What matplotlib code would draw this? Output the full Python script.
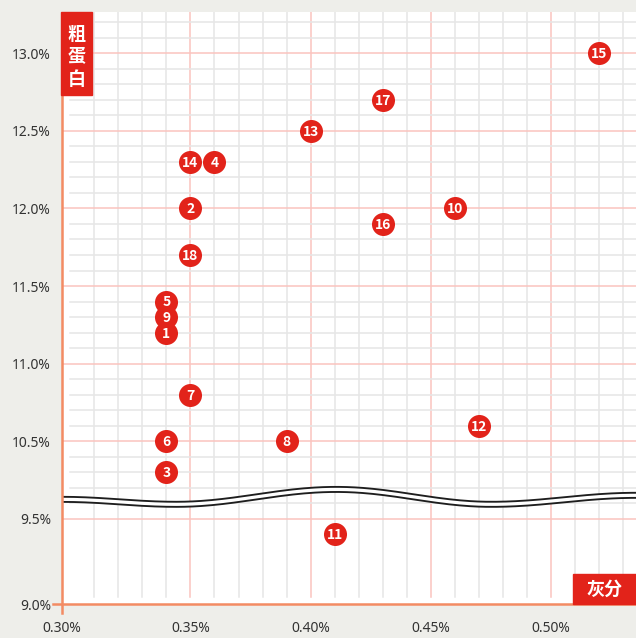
import numpy as np
import matplotlib
matplotlib.use('Agg')
import matplotlib.pyplot as plt
from matplotlib.patches import Rectangle

plt.rcParams['font.family'] = ['Noto Sans', 'Noto Sans CJK SC', 'DejaVu Sans']

# sample number, ash (%), crude protein (%)
ids = [1, 2, 3, 4, 5, 6, 7, 8, 9, 10, 11, 12, 13, 14, 15, 16, 17, 18]
ash = [0.34, 0.35, 0.34, 0.36, 0.34, 0.34, 0.35, 0.39, 0.34, 0.46,
       0.41, 0.47, 0.40, 0.35, 0.52, 0.43, 0.43, 0.35]
protein = [11.2, 12.0, 10.3, 12.3, 11.4, 10.5, 10.8, 10.5, 11.3, 12.0,
           9.4, 10.6, 12.5, 12.3, 13.0, 11.9, 12.7, 11.7]

x_ticks = [0.30, 0.35, 0.40, 0.45, 0.50]
y_ticks = [9.0, 9.5, 10.5, 11.0, 11.5, 12.0, 12.5, 13.0]

RED = '#e2231a'
ORANGE = '#f38b63'
MAJOR = '#fbc3be'
MINOR = '#e6e6e6'
BG = '#eeeeea'
CJK = ['Noto Sans CJK SC', 'DejaVu Sans']

# y axis is broken between 9.5 and 10.0: values below 10 are lifted by 0.5
def ys(v):
    v = np.asarray(v, dtype=float)
    return np.where(v < 10.0, v + 0.5, v)

x_lo, x_hi = 0.2966, 0.5353
y_lo, y_hi = 9.452, 13.265

fig = plt.figure(figsize=(6.36, 6.38), dpi=100)
fig.patch.set_facecolor(BG)
ax = fig.add_axes([62 / 636, 34 / 638, 574 / 636, 592 / 638])
ax.set_facecolor('white')
ax.set_xlim(x_lo, x_hi)
ax.set_ylim(y_lo, y_hi)
for s in ax.spines.values():
    s.set_visible(False)

# grid
minor_x = np.round(np.arange(0.31, 0.535, 0.01), 2)
for xv in minor_x:
    major = round(xv * 100) % 5 == 0
    ax.plot([xv, xv], [ys(9.0), y_hi], color=MAJOR if major else MINOR,
            lw=1.1, zorder=1)
minor_y = np.round(np.arange(10.0, 13.25, 0.1), 1)
for yv in minor_y:
    if round(yv * 10) % 5 == 0:
        ax.plot([x_lo, x_hi], [yv, yv], color=MAJOR, lw=1.1, zorder=1)
    else:
        ax.plot([0.30, x_hi], [yv, yv], color=MINOR, lw=1.1, zorder=1)

# axis break wave
bx = np.array([0.2966, 0.3442, 0.4107, 0.4751, 0.5353])
by = np.array([10.126, 10.094, 10.190, 10.094, 10.152])
wx, wy = [], []
for i in range(len(bx) - 1):
    t = np.linspace(0, 1, 60)
    f = (1 - np.cos(np.pi * t)) / 2
    wx.extend(bx[i] + (bx[i + 1] - bx[i]) * t)
    wy.extend(by[i] + (by[i + 1] - by[i]) * f)
ax.plot(wx, wy, color='#1e1e1e', lw=5.0, zorder=3, solid_capstyle='butt')
ax.plot(wx, wy, color='white', lw=2.3, zorder=3.1, solid_capstyle='butt')

# points
ax.scatter(ash, ys(protein), s=275, color=RED, zorder=4, linewidths=0)
for i, xv, yv in zip(ids, ash, ys(protein)):
    ax.text(xv, yv - 0.006, str(i), color='white', fontsize=10,
            fontweight='bold', ha='center', va='center', family=CJK,
            zorder=5)

# axis lines
ax.plot([0, 0], [-9 / 592, (604 - 95) / 592], color=ORANGE, lw=1.8,
        transform=ax.transAxes, clip_on=False, zorder=6)
ax.plot([-9 / 574, 1], [0, 0], color=ORANGE, lw=1.8,
        transform=ax.transAxes, clip_on=False, zorder=6)

# ticks
xpos = [x_lo] + x_ticks[1:]
ax.set_xticks(xpos)
ax.set_xticklabels(['%.2f%%' % v for v in x_ticks])
ypos = [y_lo] + list(ys(y_ticks[1:]))
ax.set_yticks(ypos)
ax.set_yticklabels(['%.1f%%' % v for v in y_ticks])
ax.tick_params(length=0, labelsize=10, colors='#333333')
ax.tick_params(axis='y', pad=8)
ax.tick_params(axis='x', pad=12)

# axis title boxes
fig.patches.append(Rectangle((61 / 636, (638 - 95) / 638), 31 / 636, 83 / 638,
                             transform=fig.transFigure, color=RED, zorder=10))
fig.text(76.5 / 636, (638 - 57) / 638, '粗\n蛋\n白', color='white',
         fontsize=13, fontweight='bold', ha='center', va='center',
         linespacing=1.25, family=CJK, zorder=11)
fig.patches.append(Rectangle((573 / 636, 34 / 638), 63 / 636, 30 / 638,
                             transform=fig.transFigure, color=RED, zorder=10))
fig.text(604.5 / 636, 49 / 638, '灰分', color='white', fontsize=13,
         fontweight='bold', ha='center', va='center', family=CJK, zorder=11)

fig.savefig('out.png', dpi=100, facecolor=BG)
